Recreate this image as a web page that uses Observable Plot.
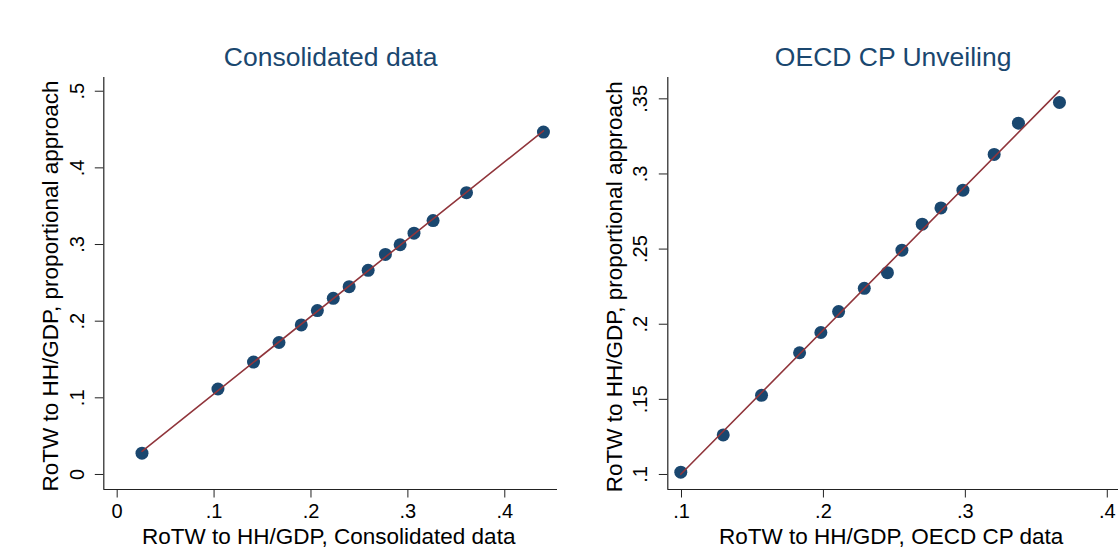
<!DOCTYPE html>
<html>
<head>
<meta charset="utf-8">
<script src="https://cdn.jsdelivr.net/npm/d3@7"></script>
<script src="https://cdn.jsdelivr.net/npm/@observablehq/plot@0.6"></script>
<style>
  html, body { margin: 0; padding: 0; background: #fff; }
  #wrap { position: relative; width: 1118px; height: 548px; overflow: hidden; background: #fff; }
  .panel { position: absolute; top: 0; width: 559px; height: 548px; }
  .panel svg { overflow: visible; }
</style>
</head>
<body>
<div id="wrap">
  <div class="panel" id="left" style="left:0px"></div>
  <div class="panel" id="right" style="left:559px"></div>
</div>
<script>
// ---- data ----
const panelTitles = ["Consolidated data", "OECD CP Unveiling"];
const xLabels = ["RoTW to HH/GDP, Consolidated data", "RoTW to HH/GDP, OECD CP data"];
const yLabel = "RoTW to HH/GDP, proportional approach";

const consolidatedX = [0.0256, 0.104, 0.1407, 0.167, 0.190, 0.2066, 0.223, 0.2394, 0.259, 0.2768, 0.292, 0.3063, 0.326, 0.3605, 0.4399];
const consolidatedY = [0.0278, 0.1115, 0.1466, 0.1722, 0.1951, 0.2138, 0.2298, 0.245, 0.2663, 0.2871, 0.2997, 0.3148, 0.3313, 0.3677, 0.4467];

const oecdX = [0.0995, 0.1294, 0.1564, 0.1832, 0.1982, 0.2107, 0.2288, 0.2451, 0.2553, 0.2696, 0.2828, 0.2983, 0.3203, 0.3374, 0.3663];
const oecdY = [0.1015, 0.1263, 0.1527, 0.181, 0.1945, 0.2084, 0.2239, 0.2343, 0.2493, 0.2666, 0.2774, 0.2892, 0.313, 0.3338, 0.3476];

const leftXTicks = [0, 0.1, 0.2, 0.3, 0.4];
const leftYTicks = [0, 0.1, 0.2, 0.3, 0.4, 0.5];
const rightXTicks = [0.1, 0.2, 0.3, 0.4];
const rightYTicks = [0.1, 0.15, 0.2, 0.25, 0.3, 0.35];

// ---- helpers ----
const fmt = d => d === 0 ? "0" : String(+d.toFixed(2)).replace(/^0\./, ".");
const MARKER = "#1a476f";
const LINE = "#90353b";
const AXIS = "#222";

function panel(cfg) {
  const data = cfg.xs.map((x, i) => ({x, y: cfg.ys[i]}));
  return Plot.plot({
    width: 559,
    height: 548,
    marginLeft: cfg.ml,
    marginRight: cfg.mr,
    marginTop: 77,
    marginBottom: 59,
    style: {fontFamily: "'Liberation Sans', Arial, Helvetica, sans-serif", fontSize: "20px", color: "black", background: "transparent"},
    x: {domain: cfg.xDomain, axis: null},
    y: {domain: cfg.yDomain, axis: null},
    marks: [
      Plot.ruleX([cfg.xDomain[0]], {stroke: AXIS, strokeWidth: 1.2}),
      Plot.ruleY([cfg.yDomain[0]], {stroke: AXIS, strokeWidth: 1.2}),
      Plot.axisX({ticks: cfg.xTicks, tickSize: 8.5, tickPadding: 6, tickFormat: fmt, stroke: AXIS, label: null, fontSize: 20}),
      Plot.axisY({ticks: cfg.yTicks, tickSize: 8.5, tickPadding: cfg.yPad, tickRotate: -90, tickFormat: fmt, stroke: AXIS, label: null, fontSize: 20}),
      Plot.dot(data, {x: "x", y: "y", r: 6.5, fill: MARKER, stroke: null}),
      Plot.linearRegressionY(data, {x: "x", y: "y", stroke: LINE, strokeWidth: 1.6, ci: 0}),
      Plot.text([cfg.title], {text: d => d, frameAnchor: "top", textAnchor: "middle", lineAnchor: "bottom", dy: -12, fontSize: 26.5, fill: MARKER}),
      Plot.text([cfg.xLabel], {text: d => d, frameAnchor: "bottom", textAnchor: "middle", lineAnchor: "bottom", dy: 54, dx: -2, fontSize: 22.5}),
      Plot.text([yLabel], {text: d => d, frameAnchor: "left", textAnchor: "middle", rotate: -90, lineAnchor: "bottom", dx: -45.5, dy: cfg.yLabelDy, fontSize: 22.5})
    ]
  });
}

document.getElementById("left").append(panel({
  xs: consolidatedX, ys: consolidatedY,
  ml: 103.3, mr: 2,
  xDomain: [-0.0138, 0.4544], yDomain: [-0.0196, 0.5179],
  xTicks: leftXTicks, yTicks: leftYTicks, yPad: 11,
  title: panelTitles[0], xLabel: xLabels[0], yLabelDy: 2.5
}));

document.getElementById("right").append(panel({
  xs: oecdX, ys: oecdY,
  ml: 108.3, mr: 0,
  xDomain: [0.09035, 0.4079], yDomain: [0.0900, 0.3642],
  xTicks: rightXTicks, yTicks: rightYTicks, yPad: 12,
  title: panelTitles[1], xLabel: xLabels[1], yLabelDy: 3.3
}));
</script>
</body>
</html>
